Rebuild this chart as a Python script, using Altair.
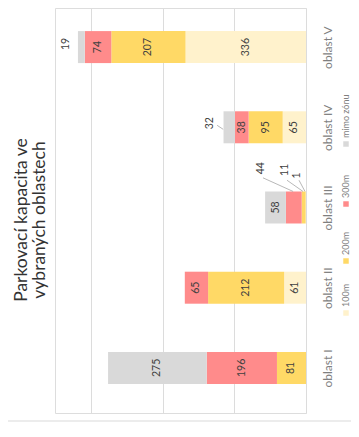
import json
import altair as alt
import pandas as pd

# ---------------- data ----------------
categories = ["oblast I", "oblast II", "oblast III", "oblast IV", "oblast V"]
series = ["100m", "200m", "300m", "mimo zónu"]
v_100m = [0, 61, 1, 65, 336]
v_200m = [81, 212, 11, 95, 207]
v_300m = [196, 65, 44, 38, 74]
v_mimo = [275, 0, 58, 32, 19]

title_lines = ["Parkovací kapacita ve", "vybraných oblastech"]

# labels drawn outside their segment (callouts)
callout_category = ["oblast III", "oblast III", "oblast III", "oblast IV", "oblast V"]
callout_series = ["300m", "200m", "100m", "mimo zónu", "mimo zónu"]

colors = ["#FFF2CC", "#FFD966", "#FF8B8B", "#D9D9D9"]

# ---------------- layout / styling ----------------
FONT = "Lato"
W, H = 251, 405
callout_label_x = [125, 59, 24, 268, 669]
callout_label_dy = [0.49, 0.47, 0.40, 0.05, 0.04]
callout_line = [  # x1, x2, dy1, dy2 (None = no line)
    (120, 36, 0.37, 0.20),
    (53, 8.4, 0.34, 0.20),
    (19.5, 2.8, 0.34, 0.20),
    (248, 231, 0.025, -0.025),
    None,
]
legend_swatch_y = [305, 253, 196, 136]
legend_text_y = [299, 247, 190, 130]
legend_x = 291
title_x = [-33, -15]
title_y = 212

vals = {"100m": v_100m, "200m": v_200m, "300m": v_300m, "mimo zónu": v_mimo}

bar_rows, label_rows = [], []
callouts = set(zip(callout_category, callout_series))
for i, cat in enumerate(categories):
    start = 0
    for s in series:
        v = vals[s][i]
        bar_rows.append({"cat": cat, "idx": i + 1, "series": s, "start": start,
                         "end": start + v, "value": v})
        if v > 0 and (cat, s) not in callouts:
            label_rows.append({"idx": i + 1, "mid": start + v / 2, "value": str(v)})
        start += v
bars = pd.DataFrame(bar_rows)
inside = pd.DataFrame(label_rows)

co_rows, line_rows = [], []
for k, (cat, s) in enumerate(zip(callout_category, callout_series)):
    i = categories.index(cat)
    co_rows.append({"x": callout_label_x[k], "y": i + 1 + callout_label_dy[k],
                    "value": str(vals[s][i])})
    if callout_line[k] is not None:
        x1, x2, d1, d2 = callout_line[k]
        line_rows.append({"x1": x1, "x2": x2, "y1": i + 1 + d1, "y2": i + 1 + d2})
co = pd.DataFrame(co_rows)
lines = pd.DataFrame(line_rows)

legend_df = pd.DataFrame({"series": series, "sy": legend_swatch_y, "ty": legend_text_y})
title_df = pd.DataFrame({"line": title_lines, "tx": title_x})

xscale = alt.Scale(domain=[0, 700], reverse=True, nice=False, zero=True)
yscale = alt.Scale(domain=[0.5, 5.425], nice=False, zero=False)
cscale = alt.Scale(domain=series, range=colors)

label_expr = json.dumps(categories) + "[datum.value - 1]"

bar_layer = alt.Chart(bars).mark_bar(size=32).encode(
    x=alt.X("start:Q", scale=xscale, title=None,
            axis=alt.Axis(values=list(range(0, 701, 100)), grid=True, labels=False,
                          ticks=False, domain=False, gridColor="#DCDCDC", gridWidth=1)),
    x2="end:Q",
    y=alt.Y("idx:Q", scale=yscale, title=None,
            axis=alt.Axis(orient="right", values=[1, 2, 3, 4, 5], labelExpr=label_expr,
                          grid=False, ticks=False, tickSize=0, domain=False,
                          labelAngle=270, labelAlign="center", labelBaseline="middle",
                          labelPadding=21, labelFontSize=12, labelFont=FONT,
                          labelColor="#7F7F7F")),
    color=alt.Color("series:N", scale=cscale, legend=None),
)

inside_layer = alt.Chart(inside).mark_text(
    angle=270, align="center", baseline="middle", fontSize=10.5, font=FONT, color="#404040"
).encode(
    x=alt.X("mid:Q", scale=xscale, title=None),
    y=alt.Y("idx:Q", scale=yscale, title=None),
    text="value:N",
)

co_layer = alt.Chart(co).mark_text(
    angle=270, align="center", baseline="middle", fontSize=10.5, font=FONT, color="#404040"
).encode(
    x=alt.X("x:Q", scale=xscale, title=None),
    y=alt.Y("y:Q", scale=yscale, title=None),
    text="value:N",
)

line_layer = alt.Chart(lines).mark_rule(color="#A6A6A6", strokeWidth=0.8).encode(
    x=alt.X("x1:Q", scale=xscale, title=None),
    x2="x2:Q",
    y=alt.Y("y1:Q", scale=yscale, title=None),
    y2="y2:Q",
)

border = alt.Chart(pd.DataFrame({"a": [0]})).mark_rule(color="#D9D9D9", strokeWidth=1).encode(
    x=alt.value(-47), x2=alt.value(296), y=alt.value(413)
)

legend_sw = alt.Chart(legend_df).mark_square(size=30, opacity=1).encode(
    x=alt.value(legend_x),
    y=alt.Y("sy:Q", scale=None),
    color=alt.Color("series:N", scale=cscale, legend=None),
)
legend_tx = alt.Chart(legend_df).mark_text(
    angle=270, align="left", baseline="middle", fontSize=9, font=FONT, color="#7F7F7F"
).encode(
    x=alt.value(legend_x),
    y=alt.Y("ty:Q", scale=None),
    text="series:N",
)

title_layer = alt.Chart(title_df).mark_text(
    angle=270, align="center", baseline="middle", fontSize=17.5, font=FONT, color="#333333"
).encode(
    x=alt.X("tx:Q", scale=None),
    y=alt.value(title_y),
    text="line:N",
)

chart = alt.layer(
    bar_layer, inside_layer, line_layer, co_layer, border, legend_sw, legend_tx, title_layer
).properties(
    width=W, height=H,
    padding={"left": 47, "top": 0, "right": 45, "bottom": 9},
    autosize=alt.AutoSizeParams(type="none"),
).configure_view(stroke=None).configure(background="white")

chart.save("out.html", embed_options={"renderer": "svg", "actions": False})
